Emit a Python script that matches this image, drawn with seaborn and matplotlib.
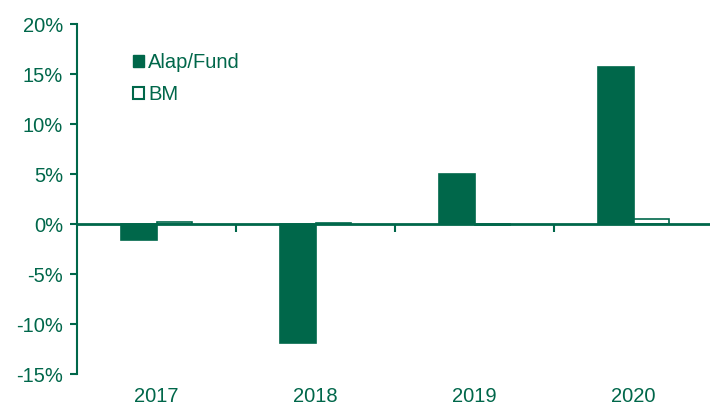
import matplotlib

matplotlib.use("Agg")

import matplotlib.pyplot as plt
import pandas as pd
import seaborn as sns
from matplotlib.patches import Patch
from matplotlib.ticker import FuncFormatter, FixedLocator

years = ["2017", "2018", "2019", "2020"]
fund_values = [-1.6, -11.9, 5.0, 15.7]
bm_values = [0.2, 0.1, -0.05, 0.5]
series_names = ["Alap/Fund", "BM"]

GREEN = "#00674A"

df = pd.DataFrame(
    {
        "year": years * 2,
        "value": fund_values + bm_values,
        "series": [series_names[0]] * len(years) + [series_names[1]] * len(years),
    }
)

sns.set_theme(style="white")
plt.rcParams["font.family"] = ["Liberation Sans", "DejaVu Sans"]

fig = plt.figure(figsize=(7.1, 4.07), dpi=100)
ax = fig.add_axes([77 / 710, 1 - 374 / 407, 1 - 77 / 710, (374 - 24) / 407])

sns.barplot(
    data=df,
    x="year",
    y="value",
    hue="series",
    palette=[GREEN, GREEN],
    saturation=1,
    width=0.45,
    edgecolor=GREEN,
    linewidth=1.2,
    ax=ax,
    legend=False,
)
for patch in ax.containers[1]:
    patch.set_facecolor("white")

ax.set_xlim(-0.5, 3.48)
ax.set_ylim(-15, 20)
ax.set_xlabel("")
ax.set_ylabel("")

# axes styling
for side in ("top", "right"):
    ax.spines[side].set_visible(False)
ax.spines["left"].set_color(GREEN)
ax.spines["left"].set_linewidth(1.5)
ax.spines["bottom"].set_position(("data", 0))
ax.spines["bottom"].set_color(GREEN)
ax.spines["bottom"].set_linewidth(2)

ax.set_yticks(range(-15, 21, 5))
ax.yaxis.set_major_formatter(FuncFormatter(lambda v, _: f"{v:.0f}%"))
ax.tick_params(axis="y", which="major", direction="out", length=5, width=1.5,
               color=GREEN, labelcolor=GREEN, labelsize=14.5, pad=5, left=True)

# separators between categories on the zero line
ax.set_xticks([])
ax.xaxis.set_minor_locator(FixedLocator([0.5, 1.5, 2.5]))
ax.tick_params(axis="x", which="minor", direction="out", length=6, width=1.5,
               color=GREEN, bottom=True)

# year labels at the bottom of the plot area
sec = ax.secondary_xaxis("bottom")
sec.set_xticks(range(len(years)))
sec.set_xticklabels(years)
sec.spines["bottom"].set_visible(False)
sec.tick_params(axis="x", length=0, labelcolor=GREEN, labelsize=14.5, pad=9)

handles = [
    Patch(facecolor=GREEN, edgecolor=GREEN, label=series_names[0]),
    Patch(facecolor="white", edgecolor=GREEN, linewidth=1.5, label=series_names[1]),
]
leg = ax.legend(
    handles=handles,
    loc="upper left",
    bbox_to_anchor=(0.06, 0.968),
    frameon=False,
    fontsize=14.5,
    handlelength=0.55,
    handleheight=0.55,
    handletextpad=0.2,
    labelspacing=0.62,
)
for text in leg.get_texts():
    text.set_color(GREEN)

fig.savefig("out.png", dpi=100)
